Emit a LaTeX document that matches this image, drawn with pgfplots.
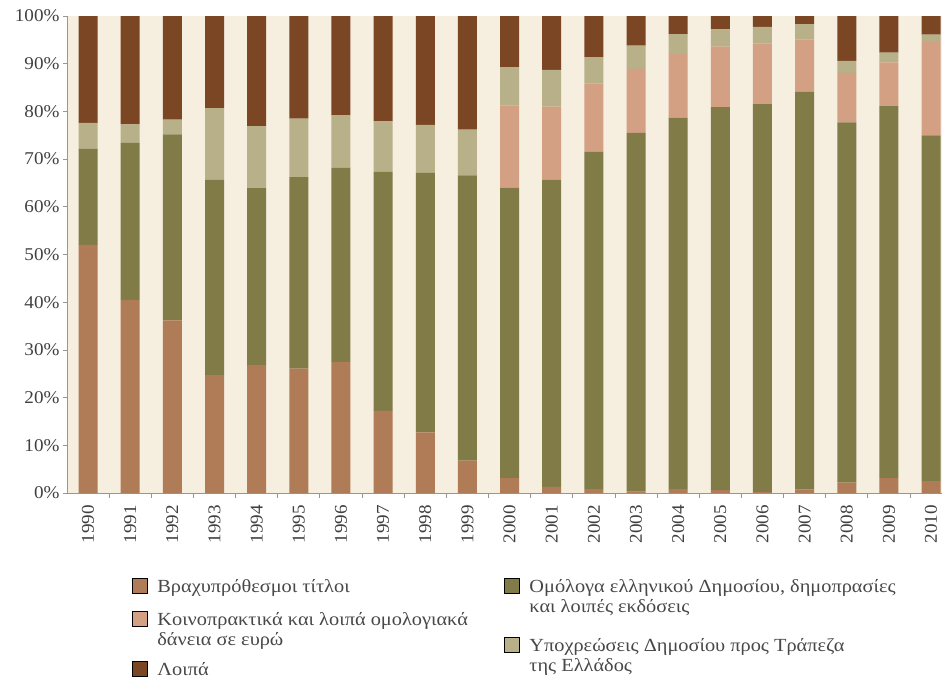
\documentclass[border=0pt]{standalone}
\usepackage{fontspec}
\setmainfont{Liberation Serif}
\newfontfamily\legfamily[FakeStretch=1.1]{Liberation Serif}
\newfontfamily\tickfamily[FakeStretch=1.06]{Liberation Serif}
\usepackage{pgfplots}
\usepackage{pgfplotstable}
\pgfplotsset{compat=1.18}

\definecolor{cShort}{RGB}{176,124,88}
\definecolor{cSynd}{RGB}{211,160,132}
\definecolor{cBonds}{RGB}{128,123,71}
\definecolor{cBoG}{RGB}{184,176,137}
\definecolor{cOther}{RGB}{122,70,36}
\definecolor{cream}{RGB}{246,238,222}
\definecolor{axgray}{RGB}{150,150,150}
\definecolor{txtgray}{RGB}{64,64,64}
\definecolor{keygray}{RGB}{72,72,72}

% Shares of public debt by instrument (%), 1990--2010
\pgfplotstableread{
x  short bonds synd bog  other
0  52.0  20.2  0.0  5.4  22.4
1  40.5  32.9  0.0  3.9  22.7
2  36.2  39.0  0.0  3.1  21.7
3  24.7  41.0  0.0  15.0 19.3
4  26.8  37.1  0.0  13.0 23.1
5  26.1  40.1  0.0  12.3 21.5
6  27.5  40.7  0.0  11.0 20.8
7  17.2  50.2  0.0  10.5 22.1
8  12.7  54.4  0.0  10.1 22.8
9  6.8   59.8  0.0  9.6  23.8
10 3.1   60.9  17.2 8.1  10.7
11 1.3   64.4  15.3 7.7  11.3
12 0.8   70.7  14.3 5.6  8.6
13 0.3   75.2  13.4 4.9  6.2
14 0.8   77.9  13.3 4.2  3.8
15 0.6   80.3  12.7 3.6  2.8
16 0.2   81.3  12.7 3.5  2.3
17 0.7   83.4  11.0 3.2  1.7
18 2.2   75.5  10.4 2.5  9.4
19 3.1   78.0  9.2  2.0  7.7
20 2.5   72.5  19.6 1.5  3.9
}\debt

\newcommand{\lfont}{\legfamily\fontsize{18.5}{20}\selectfont}
\newcommand{\tfont}{\tickfamily\fontsize{18}{20}\selectfont}

\pgfplotsset{
  keyaxis/.style={
    hide axis, scale only axis, width=10pt, height=10pt,
    xmin=0, xmax=1, ymin=0, ymax=1,
    anchor=north west,
    legend style={at={(0,1)}, anchor=north west, draw=none, fill=none,
      inner sep=0pt, outer sep=0pt, column sep=10pt,
      cells={anchor=base west}, nodes={inner sep=0pt},
      font=\lfont, text=keygray},
    legend image code/.code={\fill[##1] (0pt,-1pt) rectangle (15pt,14pt);},
  },
}

\begin{document}
\begin{tikzpicture}
\useasboundingbox (0pt,0pt) rectangle (942pt,-678pt);

\begin{axis}[
  at={(67pt,-16pt)}, anchor=north west,
  scale only axis, width=875pt, height=477pt,
  ybar stacked, bar width=19pt,
  xmin=-0.5, xmax=20.26, ymin=0, ymax=100,
  axis lines*=left,
  axis line style={draw=axgray, line width=0.8pt},
  axis background/.style={fill=cream},
  xtick={0,...,20},
  xticklabels={1990,1991,1992,1993,1994,1995,1996,1997,1998,1999,2000,
               2001,2002,2003,2004,2005,2006,2007,2008,2009,2010},
  minor xtick={0.5,1.5,...,19.5},
  ytick={0,10,...,100},
  yticklabels={0\%,10\%,20\%,30\%,40\%,50\%,60\%,70\%,80\%,90\%,100\%},
  tick align=outside,
  major tick length=4pt, minor tick length=5pt,
  major x tick style={draw=none},
  minor x tick style={draw=axgray, line width=0.8pt},
  major y tick style={draw=axgray, line width=0.8pt},
  xticklabel style={rotate=90, anchor=east, font=\tfont, text=txtgray, inner sep=0pt},
  xticklabel shift=8pt,
  yticklabel style={font=\tfont, text=txtgray},
  every axis plot/.append style={draw=none},
]
\addplot[fill=cShort] table[x=x, y=short] {\debt};
\addplot[fill=cBonds] table[x=x, y=bonds] {\debt};
\addplot[fill=cSynd]  table[x=x, y=synd]  {\debt};
\addplot[fill=cBoG]   table[x=x, y=bog]   {\debt};
\addplot[fill=cOther] table[x=x, y=other] {\debt};
\end{axis}

% legend, left column
\begin{axis}[keyaxis, at={(132pt,-578pt)}]
\addlegendimage{fill=cShort}
\addlegendentry{Βραχυπρόθεσμοι τίτλοι}
\end{axis}
\begin{axis}[keyaxis, at={(132pt,-611pt)}]
\addlegendimage{fill=cSynd}
\addlegendentry{\begin{tabular}[t]{@{}l@{}}Κοινοπρακτικά και λοιπά ομολογιακά\\δάνεια σε ευρώ\end{tabular}}
\end{axis}
\begin{axis}[keyaxis, at={(132pt,-661pt)}]
\addlegendimage{fill=cOther}
\addlegendentry{Λοιπά}
\end{axis}

% legend, right column
\begin{axis}[keyaxis, at={(504pt,-578pt)}]
\addlegendimage{fill=cBonds}
\addlegendentry{\begin{tabular}[t]{@{}l@{}}Ομόλογα ελληνικού Δημοσίου, δημοπρασίες\\και λοιπές εκδόσεις\end{tabular}}
\end{axis}
\begin{axis}[keyaxis, at={(504pt,-637pt)}]
\addlegendimage{fill=cBoG}
\addlegendentry{\begin{tabular}[t]{@{}l@{}}Υποχρεώσεις Δημοσίου προς Τράπεζα\\της Ελλάδος\end{tabular}}
\end{axis}
\end{tikzpicture}
\end{document}
